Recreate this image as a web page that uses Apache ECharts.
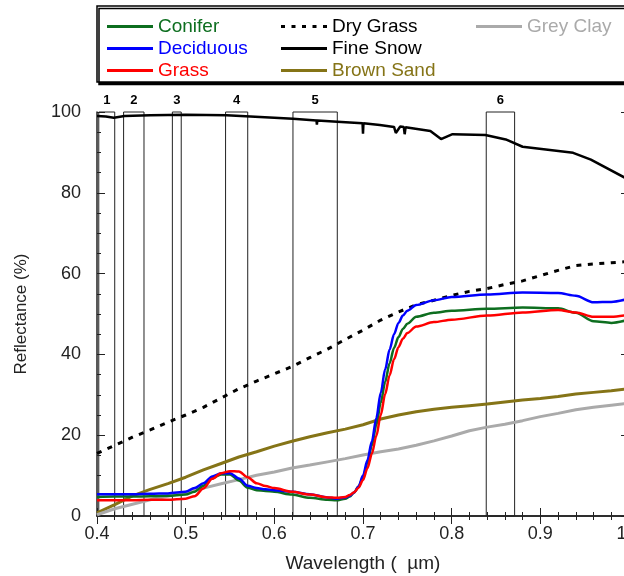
<!DOCTYPE html>
<html>
<head>
<meta charset="utf-8">
<script src="https://cdn.jsdelivr.net/npm/echarts@6/dist/echarts.min.js"></script>
<style>html,body{margin:0;padding:0;background:#fff;}</style>
</head>
<body>
<div id="main" style="width:624px;height:576px;"></div>
<script>
var font = 'Liberation Sans, Arial, sans-serif';

// vegetation spectra (wavelength in um, reflectance in %)
var vegWl    = [0.40,0.42,0.44,0.46,0.48,0.50,0.51,0.52,0.53,0.54,0.55,0.56,0.57,0.58,0.59,0.60,0.62,0.64,0.66,0.67,
                0.68,0.685,0.69,0.695,0.70,0.705,0.71,0.715,0.72,0.725,0.73,0.735,0.74,0.745,0.75,
                0.76,0.78,0.80,0.84,0.88,0.92,0.94,0.96,0.98,1.00];
var conifer  = [4.7,4.8,4.8,4.9,5.0,5.3,6.0,7.5,9.4,10.3,10.3,8.8,7.0,6.4,6.2,6.0,5.3,4.5,4.0,3.9,
                4.3,4.8,5.8,7.3,9.5,13.0,17.5,22.5,28.0,33.2,37.8,41.6,44.3,46.3,47.6,
                49.3,50.3,50.8,51.3,51.6,51.4,50.3,48.2,47.8,48.6];
var deciduous= [5.4,5.4,5.4,5.5,5.6,6.0,6.9,8.1,9.8,10.6,10.6,9.3,7.5,6.9,6.6,6.4,6.0,5.4,4.6,4.3,
                4.6,5.0,5.8,7.3,10.0,13.8,18.5,24.2,30.5,36.3,41.2,45.0,47.8,49.6,50.8,
                52.2,53.4,54.2,54.8,55.3,55.2,54.5,52.9,53.0,53.8];
var grass    = [3.9,3.9,3.9,4.0,4.0,4.3,4.9,6.8,9.2,10.6,11.1,11.0,9.6,8.1,7.4,6.9,6.0,5.3,4.6,4.5,
                4.7,5.2,5.9,7.0,8.9,11.8,15.4,19.8,25.0,30.2,34.8,38.8,41.8,43.9,45.3,
                46.9,48.0,48.6,49.6,50.4,51.0,50.4,49.3,49.3,49.8];

// soil, dry grass spectra
var soilWl   = [0.40,0.42,0.44,0.46,0.48,0.50,0.52,0.54,0.56,0.58,0.60,0.62,0.64,0.66,0.68,0.70,0.72,0.74,0.76,0.78,0.80,0.82,0.84,0.86,0.88,0.90,0.92,0.94,0.96,0.98,1.00];
var dryGrass = [15.5,17.5,19.5,21.3,23.2,25.0,26.9,29.2,31.5,33.4,35.2,37.0,39.2,41.3,43.7,46.0,48.5,50.5,52.3,53.4,54.6,55.6,56.3,57.3,58.2,59.5,60.8,62.0,62.4,62.7,63.0];
var brownSand= [0.8,2.8,5.0,6.6,8.0,9.6,11.4,13.0,14.6,15.9,17.3,18.5,19.6,20.6,21.5,22.6,24.0,25.0,25.8,26.4,26.9,27.3,27.7,28.2,28.7,29.1,29.6,30.2,30.6,31.0,31.5];
var greyClay = [0.3,1.8,2.9,4.0,4.9,5.9,6.9,8.0,9.0,10.1,10.9,11.9,12.6,13.4,14.2,15.1,15.9,16.6,17.5,18.6,19.8,21.1,22.0,22.7,23.6,24.6,25.4,26.3,26.9,27.4,27.9];

// fine snow, with the small dips of the measurement
var snowWl   = [0.400,0.410,0.419,0.431,0.460,0.500,0.546,0.600,0.621,0.6475,0.648,0.6485,0.671,0.6995,0.700,0.7005,0.719,0.735,0.737,0.742,0.746,0.747,0.748,0.776,0.788,0.801,0.838,0.861,0.880,0.937,0.957,1.000];
var snow     = [99.0,98.9,98.6,99.0,99.2,99.3,99.2,98.6,98.3,97.9,96.9,97.9,97.6,97.2,94.6,97.2,96.8,96.3,94.8,96.4,96.3,94.5,96.2,95.3,93.3,94.5,94.3,93.2,91.4,89.9,88.2,83.2];

// sensor bands
var bandNames = ['1','2','3','4','5','6'];
var bandStart = [0.402,0.430,0.485,0.545,0.621,0.839];
var bandEnd   = [0.420,0.453,0.495,0.570,0.671,0.871];

var xTicks = { min: 0.4, max: 1.0, interval: 0.1 };
var yTicks = { min: 0, max: 100, interval: 20 };

var colors = {
  'Conifer': '#0d6e1f', 'Deciduous': '#0000ff', 'Grass': '#ff0000',
  'Dry Grass': '#000000', 'Fine Snow': '#000000', 'Brown Sand': '#857417', 'Grey Clay': '#aaaaaa'
};

var solidIcon = 'path://M0,0h46v3h-46z';
var dotIcon = 'path://M0,0h4v3h-4z M10.5,0h4v3h-4z M21,0h4v3h-4z M31.5,0h4v3h-4z M42,0h4v3h-4z';

function toPairs(xs, ys) {
  return xs.map(function (x, i) { return [x, ys[i]]; });
}

function lineSeries(name, xs, ys, width, extra) {
  var s = {
    name: name, type: 'line', symbol: 'none', data: toPairs(xs, ys),
    lineStyle: { color: colors[name], width: width, cap: 'butt' },
    itemStyle: { color: colors[name] }
  };
  for (var k in extra) s[k] = extra[k];
  return s;
}

function legendCol(left, names) {
  return {
    orient: 'vertical', left: left, top: 17, padding: 0, itemGap: 3,
    itemWidth: 46, itemHeight: 3, selectedMode: false,
    textStyle: { fontFamily: font, fontSize: 19 },
    data: names.map(function (n) {
      return { name: n, icon: n === 'Dry Grass' ? dotIcon : solidIcon,
        itemStyle: { color: colors[n] }, textStyle: { color: colors[n] } };
    })
  };
}

var axisCommon = {
  axisLine: { show: true, lineStyle: { color: '#222', width: 1.5 } },
  axisTick: { show: true, inside: true, length: 8, lineStyle: { color: '#222' } },
  splitLine: { show: false }
};

function axis(base, extra) {
  var a = {};
  for (var k in axisCommon) a[k] = axisCommon[k];
  for (var k2 in base) a[k2] = base[k2];
  for (var k3 in extra) a[k3] = extra[k3];
  return a;
}

var chart = echarts.init(document.getElementById('main'));

var option = {
  animation: false,
  grid: { left: 97, top: 112, right: -5, bottom: 60, containLabel: false, outerBoundsMode: 'none' },
  graphic: [{
    type: 'rect', z: 0,
    shape: { x: 97, y: 6, width: 560, height: 76 },
    style: { fill: '#fff', stroke: '#000', lineWidth: 1.5, shadowColor: '#000', shadowOffsetX: 2, shadowOffsetY: 2.5 }
  }],
  legend: [
    legendCol(107, ['Conifer', 'Deciduous', 'Grass']),
    legendCol(281, ['Dry Grass', 'Fine Snow', 'Brown Sand']),
    legendCol(476, ['Grey Clay'])
  ],
  xAxis: [
    axis(xTicks, {
      type: 'value', position: 'bottom',
      minorTick: { show: true, splitNumber: 5, length: 4, lineStyle: { color: '#222' } },
      axisLabel: { margin: 9, fontFamily: font, fontSize: 18, color: '#222',
        formatter: function (v) { return v.toFixed(1); } },
      name: 'Wavelength (  \u00b5m)', nameLocation: 'middle', nameGap: 38,
      nameTextStyle: { fontFamily: font, fontSize: 19, color: '#222' }
    }),
    axis(xTicks, {
      type: 'value', position: 'top',
      minorTick: { show: true, splitNumber: 5, length: 4, lineStyle: { color: '#222' } },
      axisLabel: { show: false }
    })
  ],
  yAxis: [
    axis(yTicks, {
      type: 'value', position: 'left',
      minorTick: { show: true, splitNumber: 4, length: 4, lineStyle: { color: '#222' } },
      axisLabel: { margin: 16, fontFamily: font, fontSize: 18, color: '#222' },
      name: 'Reflectance (%)', nameLocation: 'middle', nameGap: 67,
      nameTextStyle: { fontFamily: font, fontSize: 17, color: '#222' }
    }),
    axis(yTicks, {
      type: 'value', position: 'right',
      minorTick: { show: true, splitNumber: 4, length: 4, lineStyle: { color: '#222' } },
      axisLabel: { show: false }
    })
  ],
  series: [
    lineSeries('Fine Snow', snowWl, snow, 2.5, {
      markArea: {
        silent: true,
        itemStyle: { color: 'rgba(0,0,0,0)', borderColor: '#222', borderWidth: 1 },
        label: { show: true, position: 'top', distance: 5, fontFamily: font, fontSize: 13, fontWeight: 'bold', color: '#000' },
        data: bandNames.map(function (n, i) {
          return [{ name: n, xAxis: bandStart[i] }, { xAxis: bandEnd[i] }];
        })
      }
    }),
    lineSeries('Dry Grass', soilWl, dryGrass, 3, {}),
    lineSeries('Brown Sand', soilWl, brownSand, 3, {}),
    lineSeries('Grey Clay', soilWl, greyClay, 3, {}),
    lineSeries('Conifer', vegWl, conifer, 2.5, { smooth: 0.3, smoothMonotone: 'x' }),
    lineSeries('Deciduous', vegWl, deciduous, 2.5, { smooth: 0.3, smoothMonotone: 'x' }),
    lineSeries('Grass', vegWl, grass, 2.5, { smooth: 0.3, smoothMonotone: 'x' })
  ]
};
option.series[1].lineStyle.type = [5, 6.5];

chart.setOption(option);
</script>
</body>
</html>
